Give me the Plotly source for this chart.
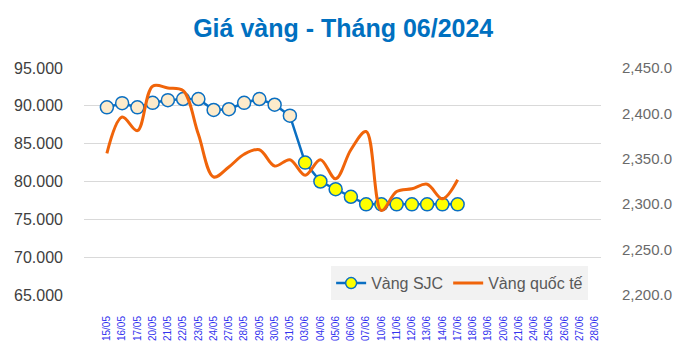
import plotly.graph_objects as go

categories = ["15/05","16/05","17/05","20/05","21/05","22/05","23/05","24/05","27/05","28/05",
              "29/05","30/05","31/05","03/06","04/06","05/06","06/06","07/06","10/06","11/06",
              "12/06","13/06","14/06","17/06","18/06","19/06","20/06","21/06","24/06","25/06",
              "26/06","27/06","28/06"]

sjc = [89.8, 90.35, 89.8, 90.4, 90.75, 90.9, 90.9, 89.45, 89.55, 90.4,
       90.9, 90.15, 88.7, 82.5, 80.0, 78.98, 77.98, 76.98, 76.98, 76.98,
       76.98, 76.98, 76.98, 76.98] + [None] * 9

world = [2356, 2396, 2381, 2430, 2428, 2425, 2377, 2330, 2341, 2355,
         2360, 2342, 2349, 2332, 2349, 2328, 2360, 2380, 2293, 2314,
         2317, 2322, 2306, 2327] + [None] * 9

left_ticks = [65, 70, 75, 80, 85, 90, 95]
left_labels = ["65.000", "70.000", "75.000", "80.000", "85.000", "90.000", "95.000"]
right_ticks = [2200, 2250, 2300, 2350, 2400, 2450]
right_labels = ["2,200.0", "2,250.0", "2,300.0", "2,350.0", "2,400.0", "2,450.0"]

BEIGE = "#FDEBCB"
YELLOW = "#FFFF00"
BLUE = "#0A6FC2"
ORANGE = "#F0640A"
n_beige = 13
marker_colors = [BEIGE if i < n_beige else YELLOW for i in range(len(categories))]

x_idx = list(range(len(categories)))

fig = go.Figure()
fig.add_trace(go.Scatter(
    x=x_idx, y=sjc, mode="lines+markers", showlegend=False,
    line=dict(color=BLUE, width=2.5),
    marker=dict(size=13, color=marker_colors, line=dict(color=BLUE, width=1.5)),
    yaxis="y"))
# legend entry for SJC (yellow marker as in the reference legend)
fig.add_trace(go.Scatter(
    x=[None], y=[None], mode="lines+markers", name="Vàng SJC",
    line=dict(color=BLUE, width=2.5),
    marker=dict(size=11, color=YELLOW, line=dict(color=BLUE, width=1.5)),
    yaxis="y"))
fig.add_trace(go.Scatter(
    x=x_idx, y=world, mode="lines", name="Vàng quốc tế",
    line=dict(color=ORANGE, width=3, shape="spline", smoothing=1),
    yaxis="y2"))

fig.update_layout(
    width=692, height=353,
    margin=dict(l=84, r=91, t=68, b=55),
    paper_bgcolor="white", plot_bgcolor="white",
    font=dict(family="Liberation Sans, Arial, sans-serif", color="#595959"),
    title=dict(text="Giá vàng - Tháng 06/2024", x=0.496, xanchor="center",
               yref="container", y=1 - 28 / 353, yanchor="middle",
               font=dict(size=25, color="#0070C0", weight="bold",
                         family="Liberation Sans, Arial, sans-serif")),
    xaxis=dict(
        range=[-1.5, 32.4], tickmode="array", tickvals=x_idx, ticktext=categories,
        tickangle=-90, tickfont=dict(size=10, color="#3333EE"),
        showgrid=False, zeroline=False, showline=False, ticks="",
        ticklabelstandoff=18, fixedrange=True),
    yaxis=dict(
        range=[65, 95], tickmode="array", tickvals=left_ticks, ticktext=left_labels,
        showgrid=True, gridcolor="#D9D9D9", gridwidth=1, zeroline=False,
        tickfont=dict(size=16, color="#404040"), ticks="", ticklabelstandoff=20),
    yaxis2=dict(
        range=[2200, 2450], tickmode="array", tickvals=right_ticks, ticktext=right_labels,
        overlaying="y", side="right", showgrid=False, zeroline=False,
        tickfont=dict(size=15, color="#6A6A6A"), ticks="", ticklabelstandoff=20),
    legend=dict(
        orientation="h", x=0.478, xanchor="left", y=0.127, yanchor="top",
        bgcolor="#F2F2F2", font=dict(size=16, color="#595959"),
        itemwidth=30, tracegroupgap=0),
)

fig.write_html("out.html")
